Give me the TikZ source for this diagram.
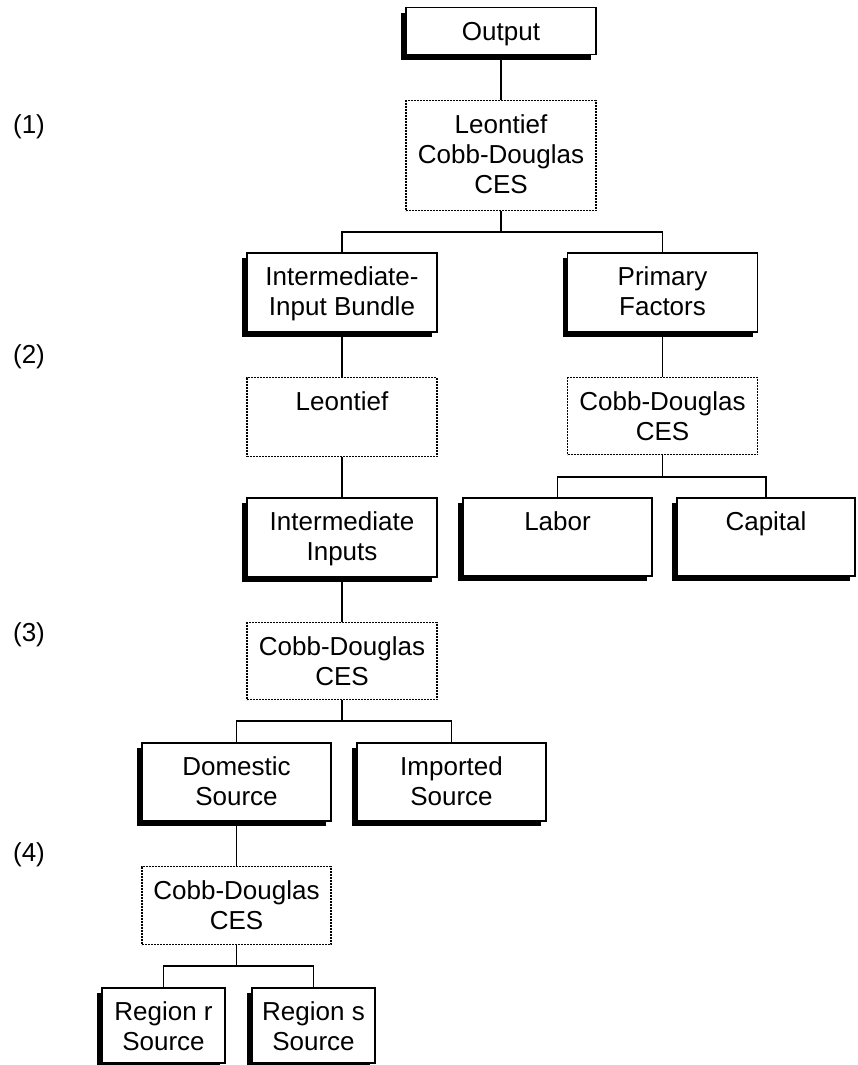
\documentclass[tikz,border=0pt]{standalone}
\usepackage{fontspec}
\setmainfont{Liberation Sans}
\usetikzlibrary{shadows}
\newcommand{\ml}[1]{\begin{tabular}[t]{@{}c@{}}#1\end{tabular}}
\begin{document}
\begin{tikzpicture}[x=1pt,y=-1pt,
  font=\fontsize{26}{30}\selectfont,
  basebox/.style={rectangle, inner sep=0pt, text height=33pt, minimum width=190pt, anchor=north, fill=white},
  solidbox/.style={basebox, draw, line width=1.5pt,
    drop shadow={opacity=1, fill=black, shadow xshift=-5pt, shadow yshift=-5pt}},
  dotbox/.style={basebox, draw, line width=1.2pt, dash pattern=on 2pt off 1pt},
  conn/.style={line width=1.5pt},
  lvl/.style={inner sep=0pt}]
\useasboundingbox (0,0) rectangle (857,1065);
% level labels
\node[lvl] (l1) at (29,127) {(1)};
\node[lvl] (l2) at (29,357) {(2)};
\node[lvl] (l3) at (29,635) {(3)};
\node[lvl] (l4) at (29,855) {(4)};
% boxes
\node[solidbox, text depth=14pt] (out) at (501,7) {Output};
\node[dotbox, text depth=77pt] (d1) at (501,100) {\ml{Leontief\\Cobb-Douglas\\CES}};
\node[solidbox, text depth=46pt] (iib) at (342,252) {\ml{Intermediate-\\Input Bundle}};
\node[solidbox, text depth=46pt] (pf) at (662.5,252) {\ml{Primary\\Factors}};
\node[dotbox, text depth=46pt] (leon) at (342,377) {Leontief};
\node[dotbox, text depth=44pt] (cd2) at (662.5,377) {\ml{Cobb-Douglas\\CES}};
\node[solidbox, text depth=46pt] (ii) at (342,497) {\ml{Intermediate\\Inputs}};
\node[solidbox, text depth=45pt, minimum width=189pt] (lab) at (557.5,497) {Labor};
\node[solidbox, text depth=45pt, minimum width=178pt] (cap) at (766,497) {Capital};
\node[dotbox, text depth=44pt] (cd3) at (342,622) {\ml{Cobb-Douglas\\CES}};
\node[solidbox, text depth=45pt, minimum width=189pt] (dom) at (236.5,742) {\ml{Domestic\\Source}};
\node[solidbox, text depth=45pt, minimum width=189pt] (imp) at (451.5,742) {\ml{Imported\\Source}};
\node[dotbox, text depth=45pt, minimum width=189pt] (cd4) at (236.5,866) {\ml{Cobb-Douglas\\CES}};
\node[solidbox, text depth=42pt, minimum width=123pt] (rr) at (163.5,987) {\ml{Region r\\Source}};
\node[solidbox, text depth=42pt, minimum width=123pt] (rs) at (313.5,987) {\ml{Region s\\Source}};
% junctions
\coordinate (j1) at (501,232);
\coordinate (j2) at (662.5,477);
\coordinate (j3) at (342,721);
\coordinate (j4) at (236.5,966);
% connectors
\draw[conn] (out.south) -- (d1.north);
\draw[conn] (d1.south) -- (j1);
\draw[conn] (j1) -| (iib.north);
\draw[conn] (j1) -| (pf.north);
\draw[conn] (iib.south) -- (leon.north);
\draw[conn] (leon.south) -- (ii.north);
\draw[conn] (pf.south) -- (cd2.north);
\draw[conn] (cd2.south) -- (j2);
\draw[conn] (j2) -| (lab.north);
\draw[conn] (j2) -| (cap.north);
\draw[conn] (ii.south) -- (cd3.north);
\draw[conn] (cd3.south) -- (j3);
\draw[conn] (j3) -| (dom.north);
\draw[conn] (j3) -| (imp.north);
\draw[conn] (dom.south) -- (cd4.north);
\draw[conn] (cd4.south) -- (j4);
\draw[conn] (j4) -| (rr.north);
\draw[conn] (j4) -| (rs.north);
\end{tikzpicture}
\end{document}
